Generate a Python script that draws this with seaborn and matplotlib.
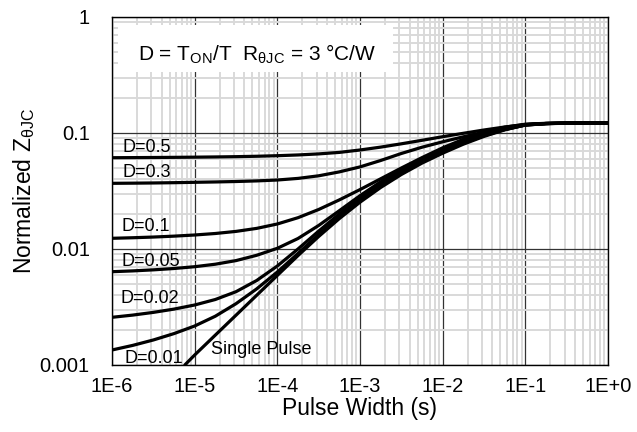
import numpy as np
import pandas as pd
import matplotlib
matplotlib.use("Agg")
import matplotlib.pyplot as plt
import matplotlib.ticker as mticker
from matplotlib.patches import Rectangle
import seaborn as sns

# ---- data ----
t_pts = [1e-6, 1.778e-6, 3.162e-6, 5.623e-6, 1e-5, 1.778e-5, 3.162e-5, 5.623e-5,
         1e-4, 1.778e-4, 3.162e-4, 5.623e-4, 1e-3, 1.778e-3, 3.162e-3, 5.623e-3,
         1e-2, 1.778e-2, 3.162e-2, 5.623e-2, 1e-1, 0.1778, 0.3162, 0.5623, 1.0]
z_d05 = [0.06123, 0.06135, 0.0615, 0.06168, 0.0619, 0.06217, 0.06252, 0.06302, 0.06373, 0.06468,
         0.06604, 0.06804, 0.07137, 0.07556, 0.08068, 0.0865, 0.09292, 0.09941, 0.10614, 0.11264,
         0.11816, 0.12076, 0.12172, 0.12195, 0.12195]
z_d03 = [0.03683, 0.03694, 0.03709, 0.0373, 0.03758, 0.03784, 0.03818, 0.03864, 0.03933, 0.04061,
         0.04276, 0.04621, 0.05102, 0.05793, 0.06658, 0.07541, 0.08397, 0.09273, 0.1016, 0.11042,
         0.11816, 0.12076, 0.12172, 0.12195, 0.12195]
z_d01 = [0.012367, 0.012503, 0.012678, 0.012907, 0.013205, 0.013604, 0.014182, 0.015057, 0.016431, 0.018617,
         0.021905, 0.026502, 0.032517, 0.04029, 0.04991, 0.06135, 0.07452, 0.08825, 0.1012, 0.1122,
         0.1191, 0.12124, 0.12184, 0.12195, 0.12195]
z_d005 = [0.006372, 0.006474, 0.006611, 0.00679, 0.007037, 0.007394, 0.007943, 0.008825, 0.01014, 0.012318,
          0.015949, 0.021389, 0.028814, 0.037953, 0.04857, 0.05992, 0.07165, 0.08431, 0.09726, 0.10891,
          0.11792, 0.12076, 0.12172, 0.12195, 0.12195]
z_d002 = [0.002577, 0.0026925, 0.0028415, 0.0030331, 0.003291, 0.00367, 0.0042843, 0.0053508, 0.007137, 0.01,
          0.014267, 0.020067, 0.027466, 0.036482, 0.04684, 0.05816, 0.07009, 0.0828, 0.09573, 0.10741,
          0.11698, 0.12028, 0.12146, 0.12184, 0.12195]
z_d001 = [0.001347, 0.0014755, 0.0016431, 0.0018654, 0.002169, 0.0026344, 0.0033766, 0.0045293, 0.006334, 0.009146,
          0.013335, 0.019179, 0.026607, 0.035553, 0.045836, 0.057021, 0.068855, 0.08167, 0.09478, 0.10698,
          0.11721, 0.12052, 0.1216, 0.12184, 0.12195]
t_single = [7.6e-6, 1e-5, 1.778e-5, 3.162e-5, 5.623e-5, 1e-4, 1.778e-4, 3.162e-4, 5.623e-4,
            1e-3, 1.778e-3, 3.162e-3, 5.623e-3, 1e-2, 1.778e-2, 3.162e-2, 5.623e-2,
            1e-1, 0.1778, 0.3162, 0.5623, 1.0]
z_single = [0.001, 0.0012197, 0.0018104, 0.0026872, 0.0039891, 0.005921, 0.008772, 0.012817, 0.018288,
            0.025316, 0.0339, 0.043874, 0.055017, 0.066975, 0.080084, 0.09347, 0.10634,
            0.11721, 0.12052, 0.1216, 0.12184, 0.12195]

series_names = ["D=0.5", "D=0.3", "D=0.1", "D=0.05", "D=0.02", "D=0.01"]
series_values = [z_d05, z_d03, z_d01, z_d005, z_d002, z_d001]

x_ticks = [1e-6, 1e-5, 1e-4, 1e-3, 1e-2, 1e-1, 1.0]
x_tick_labels = ["1E-6", "1E-5", "1E-4", "1E-3", "1E-2", "1E-1", "1E+0"]
y_ticks = [0.001, 0.01, 0.1, 1.0]
y_tick_labels = ["0.001", "0.01", "0.1", "1"]

# label anchor positions (data coords)
label_pos = {
    "D=0.5": (1.35e-6, 0.0743),
    "D=0.3": (1.35e-6, 0.0455),
    "D=0.1": (1.31e-6, 0.0156),
    "D=0.05": (1.31e-6, 0.00778),
    "D=0.02": (1.25e-6, 0.00376),
    "D=0.01": (1.42e-6, 0.00114),
}
single_label_pos = (1.57e-5, 0.00137)

# ---- build long-form data ----
rows = []
for name, vals in zip(series_names, series_values):
    for t, z in zip(t_pts, vals):
        rows.append({"t": t, "z": z, "series": name})
for t, z in zip(t_single, z_single):
    rows.append({"t": t, "z": z, "series": "Single Pulse"})
df = pd.DataFrame(rows)

sns.set_theme(style="white")
plt.rcParams["font.family"] = ["Liberation Sans", "DejaVu Sans"]
plt.rcParams["mathtext.fontset"] = "custom"
plt.rcParams["mathtext.rm"] = "Liberation Sans"

fig = plt.figure(figsize=(6.37, 4.32), dpi=100)
ax = fig.add_axes([112 / 637, 1 - 365 / 432, (608 - 112) / 637, (365 - 17) / 432])

order = series_names + ["Single Pulse"]
sns.lineplot(data=df, x="t", y="z", hue="series", hue_order=order,
             palette=["black"] * len(order), linewidth=2.3, legend=False,
             ax=ax, sort=False, zorder=5)

ax.set_xscale("log")
ax.set_yscale("log")
ax.set_xlim(1e-6, 1.0)
ax.set_ylim(1e-3, 1.0)

ax.xaxis.set_major_locator(mticker.FixedLocator(x_ticks))
ax.xaxis.set_major_formatter(mticker.FixedFormatter(x_tick_labels))
ax.yaxis.set_major_locator(mticker.FixedLocator(y_ticks))
ax.yaxis.set_major_formatter(mticker.FixedFormatter(y_tick_labels))
ax.xaxis.set_minor_locator(mticker.LogLocator(base=10, subs=np.arange(2, 10), numticks=20))
ax.yaxis.set_minor_locator(mticker.LogLocator(base=10, subs=np.arange(2, 10), numticks=20))
ax.xaxis.set_minor_formatter(mticker.NullFormatter())
ax.yaxis.set_minor_formatter(mticker.NullFormatter())

ax.grid(which="minor", color="#d9d9d9", linewidth=1.4, zorder=1)
ax.grid(which="major", color="#333333", linewidth=0.9, zorder=2)
ax.set_axisbelow(True)

ax.tick_params(which="both", length=0)
ax.tick_params(axis="x", labelsize=14.5, pad=9, colors="black")
ax.tick_params(axis="y", labelsize=14.5, pad=16, colors="black")

for s in ax.spines.values():
    s.set_color("black")
    s.set_linewidth(1.0)

ax.set_xlabel("Pulse Width (s)", fontsize=16.5, labelpad=0, color="black")
ax.set_ylabel(r"Normalized Z$_{\mathregular{θJC}}$", fontsize=16.5, labelpad=2, color="black")

for name in series_names:
    x, y = label_pos[name]
    ax.text(x, y, name, fontsize=13, ha="left", va="center", zorder=6, color="black")
ax.text(single_label_pos[0], single_label_pos[1], "Single Pulse", fontsize=13,
        ha="left", va="center", zorder=6, color="black")

# white box behind the annotation
ax.add_patch(Rectangle((0.012, 0.842), 0.555, 0.135, transform=ax.transAxes,
                       facecolor="white", edgecolor="none", zorder=4))
ax.text(0.052, 0.893, r"D = T$_{\mathregular{ON}}$/T  R$_{\mathregular{θJC}}$ = 3 °C/W",
        transform=ax.transAxes, fontsize=15, ha="left", va="center", zorder=6, color="black")

fig.savefig("out.png", dpi=100)
